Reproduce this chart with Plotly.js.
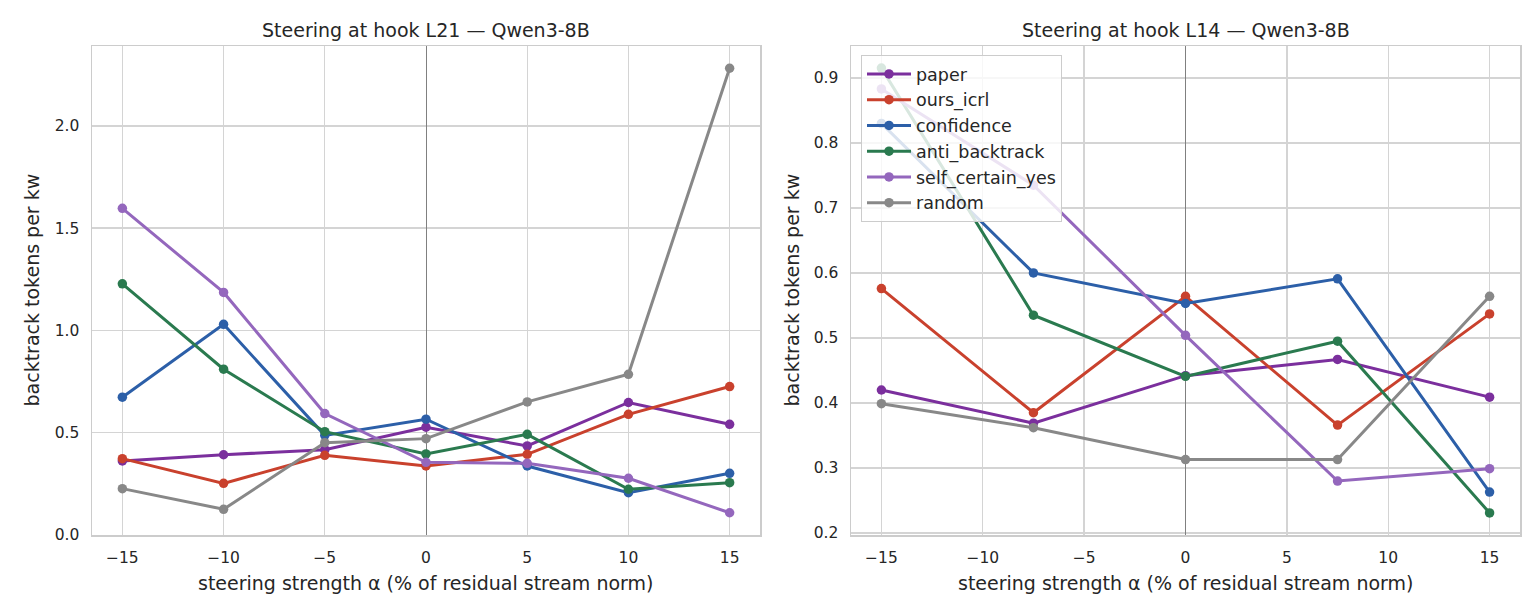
<!DOCTYPE html>
<html>
<head>
<meta charset="utf-8">
<script src="https://cdn.plot.ly/plotly-3.0.1.min.js"></script>
<style>
  html, body { margin: 0; padding: 0; background: #ffffff; }
  #chart { width: 1540px; height: 616px; }
</style>
</head>
<body>
<div id="chart"></div>
<script>
// Steering strengths (% of residual stream norm) for each hook layer
const alphaL21 = [-15, -10, -5, 0, 5, 10, 15];
const alphaL14 = [-15, -7.5, 0, 7.5, 15];

// Backtrack tokens per kw, hook L21
const paperL21 = [0.360, 0.390, 0.415, 0.525, 0.433, 0.646, 0.539];
const oursIcrlL21 = [0.371, 0.250, 0.387, 0.335, 0.392, 0.588, 0.724];
const confidenceL21 = [0.672, 1.029, 0.485, 0.564, 0.335, 0.204, 0.299];
const antiBacktrackL21 = [1.227, 0.809, 0.503, 0.394, 0.490, 0.221, 0.253];
const selfCertainYesL21 = [1.597, 1.185, 0.592, 0.353, 0.348, 0.275, 0.106];
const randomL21 = [0.224, 0.123, 0.449, 0.469, 0.649, 0.784, 2.283];

// Backtrack tokens per kw, hook L14
const paperL14 = [0.420, 0.369, 0.442, 0.467, 0.409];
const oursIcrlL14 = [0.576, 0.385, 0.564, 0.366, 0.537];
const confidenceL14 = [0.830, 0.600, 0.553, 0.591, 0.263];
const antiBacktrackL14 = [0.915, 0.535, 0.441, 0.495, 0.231];
const selfCertainYesL14 = [0.883, 0.735, 0.504, 0.280, 0.299];
const randomL14 = [0.399, 0.362, 0.313, 0.313, 0.564];

const methodNames = ['paper', 'ours_icrl', 'confidence', 'anti_backtrack', 'self_certain_yes', 'random'];
const methodColors = ['#7b2f9d', '#c9412d', '#2c5fa8', '#2a7a4f', '#9467bd', '#888888'];

const seriesL21 = [paperL21, oursIcrlL21, confidenceL21, antiBacktrackL21, selfCertainYesL21, randomL21];
const seriesL14 = [paperL14, oursIcrlL14, confidenceL14, antiBacktrackL14, selfCertainYesL14, randomL14];

const FONT = 'DejaVu Sans, Verdana, sans-serif';
const INK = '#262626';

const traces = [];
methodNames.forEach((name, i) => {
  traces.push({
    x: alphaL21, y: seriesL21[i], xaxis: 'x', yaxis: 'y',
    type: 'scatter', mode: 'lines+markers', name: name,
    legendgroup: name, showlegend: false,
    line: { color: methodColors[i], width: 3 },
    marker: { color: methodColors[i], size: 9.5 },
    hoverinfo: 'x+y+name'
  });
});
methodNames.forEach((name, i) => {
  traces.push({
    x: alphaL14, y: seriesL14[i], xaxis: 'x2', yaxis: 'y2',
    type: 'scatter', mode: 'lines+markers', name: name,
    legendgroup: name, showlegend: true,
    line: { color: methodColors[i], width: 3 },
    marker: { color: methodColors[i], size: 9.5 },
    hoverinfo: 'x+y+name'
  });
});

const W = 1540, H = 616;
const plotTop = 46, plotBottom = 535;
const yDom = [(H - plotBottom) / H, (H - plotTop) / H];

function xAxis(domain, anchor) {
  return {
    domain: domain, anchor: anchor,
    range: [-16.5, 16.5],
    tickvals: [-15, -10, -5, 0, 5, 10, 15],
    showgrid: true, gridcolor: '#d4d4d4', gridwidth: 1.3,
    zeroline: true, zerolinecolor: '#808080', zerolinewidth: 1,
    showline: true, mirror: true, linecolor: '#cccccc', linewidth: 1.5,
    ticks: '', ticklabelstandoff: 8,
    tickfont: { family: FONT, size: 15.5, color: INK },
    fixedrange: true
  };
}
function yAxis(domain, anchor, range, dtick) {
  return {
    domain: domain, anchor: anchor,
    range: range, dtick: dtick, tick0: 0, tickformat: '.1f',
    showgrid: true, gridcolor: '#d4d4d4', gridwidth: 1.3,
    zeroline: false,
    showline: true, mirror: true, linecolor: '#cccccc', linewidth: 1.5,
    ticks: '', ticklabelstandoff: 8,
    tickfont: { family: FONT, size: 15.5, color: INK },
    fixedrange: true
  };
}

const leftDom = [92 / W, 760 / W];
const rightDom = [851 / W, 1520 / W];

function label(text, x, y, angle) {
  return {
    text: text, xref: 'paper', yref: 'paper', x: x, y: y,
    xanchor: 'center', yanchor: 'middle', showarrow: false,
    textangle: angle || 0,
    font: { family: FONT, size: 19, color: INK }
  };
}

const layout = {
  width: W, height: H,
  margin: { l: 0, r: 0, t: 0, b: 0 },
  paper_bgcolor: '#ffffff', plot_bgcolor: '#ffffff',
  font: { family: FONT, color: INK },
  xaxis: xAxis(leftDom, 'y'),
  yaxis: yAxis(yDom, 'x', [-0.003, 2.392], 0.5),
  xaxis2: xAxis(rightDom, 'y2'),
  yaxis2: yAxis(yDom, 'x2', [0.197, 0.949], 0.1),
  showlegend: true,
  legend: {
    x: 861 / W, y: (H - 55) / H, xanchor: 'left', yanchor: 'top',
    bgcolor: 'rgba(255,255,255,0.82)', bordercolor: '#cccccc', borderwidth: 1,
    font: { family: FONT, size: 17.5, color: INK },
    itemwidth: 44,
    tracegroupgap: 8, traceorder: 'normal'
  },
  annotations: [
    label('Steering at hook L21 — Qwen3-8B', (leftDom[0] + leftDom[1]) / 2, (H - 30) / H),
    label('Steering at hook L14 — Qwen3-8B', (rightDom[0] + rightDom[1]) / 2, (H - 30) / H),
    label('steering strength α (% of residual stream norm)', (leftDom[0] + leftDom[1]) / 2, (H - 583) / H),
    label('steering strength α (% of residual stream norm)', (rightDom[0] + rightDom[1]) / 2, (H - 583) / H),
    label('backtrack tokens per kw', 31 / W, (yDom[0] + yDom[1]) / 2, -90),
    label('backtrack tokens per kw', 791 / W, (yDom[0] + yDom[1]) / 2, -90)
  ]
};

Plotly.newPlot('chart', traces, layout, { displayModeBar: false, staticPlot: true });
</script>
</body>
</html>
